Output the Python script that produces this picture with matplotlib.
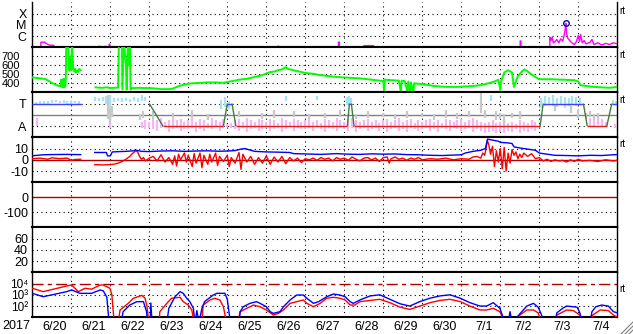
import matplotlib
matplotlib.use("Agg")
import matplotlib.pyplot as plt
import numpy as np
from matplotlib.collections import LineCollection
from matplotlib.lines import Line2D
from matplotlib.ticker import NullLocator

plt.rcParams['font.family'] = ['Liberation Sans', 'DejaVu Sans']
plt.rcParams['font.size'] = 8

# time axis: days since 2017-06-20 00UT
day_labels = ['6/20', '6/21', '6/22', '6/23', '6/24', '6/25', '6/26', '6/27',
              '6/28', '6/29', '6/30', '7/1', '7/2', '7/3', '7/4']

# X-ray flux (log10 W/m2), values below 1e-7 fall off the panel
xray_t = [0.0, 0.22, 0.22, 0.33, 0.35, 0.42, 0.45, 0.55, 0.55, 1.70, 1.70, 1.75, 1.75,
          1.86, 1.86, 1.90, 1.90, 1.97, 1.97, 1.99, 1.99, 6.30, 6.30, 6.32, 6.32,
          7.85, 7.85, 7.87, 7.87, 8.50, 8.50, 8.75, 8.75, 12.51, 12.51, 12.53, 12.53,
          13.27, 13.27, 13.30, 13.33, 13.36, 13.40, 13.45, 13.50, 13.55, 13.60, 13.63,
          13.66, 13.68, 13.70, 13.73, 13.78, 13.85, 13.90, 13.95, 14.00, 14.03, 14.06,
          14.10, 14.15, 14.20, 14.30, 14.35, 14.40, 14.50, 14.60, 14.70, 14.80, 14.90, 15.0]
xray_log = [-7.5, -7.5, -6.55, -6.55, -6.65, -6.78, -6.82, -6.82, -7.5, -7.5, -6.92, -6.92, -7.5,
            -7.5, -6.92, -6.92, -7.5, -7.5, -6.72, -6.72, -7.5, -7.5, -6.9, -6.9, -7.5,
            -7.5, -6.53, -6.53, -7.5, -7.5, -6.85, -6.85, -7.5, -7.5, -6.44, -6.44, -7.5,
            -7.5, -6.1, -6.4, -6.1, -6.6, -6.5, -6.3, -6.6, -6.25, -6.45, -6.05,
            -5.5, -4.87, -5.76, -6.2, -6.4, -6.65, -6.75, -6.5, -5.95, -6.5, -5.85,
            -6.6, -6.4, -6.7, -6.55, -6.3, -6.75, -6.6, -6.8, -6.65, -6.75, -6.6, -6.7]
flare_t = 13.68
flare_log = -4.87

# solar wind speed (km/s)
speed_t = [0.0, 0.1, 0.2, 0.3, 0.35, 0.4, 0.45, 0.5, 0.55, 0.6, 0.65, 0.7, 0.73, 0.74, 0.76,
           0.78, 0.8, 0.82, 0.84, 0.86, 0.87, 0.92, 0.93, 0.96, 0.98, 1.0, 1.02, 1.05, 1.08,
           1.1, 1.12, 1.15, 1.18, 1.2, 1.24, 1.25, 1.62, 1.7, 1.8, 1.9, 2.0, 2.1, 2.2, 2.22,
           2.3, 2.31, 2.35, 2.4, 2.42, 2.45, 2.48, 2.5, 2.52, 2.55, 2.7, 2.9, 3.1, 3.3, 3.5,
           3.6, 3.7, 3.8, 3.9, 4.0, 4.1, 4.3, 4.5, 4.7, 4.9, 5.0, 5.2, 5.3, 5.5, 5.7, 5.9,
           6.0, 6.1, 6.2, 6.3, 6.4, 6.5, 6.55, 6.7, 6.85, 7.0, 7.2, 7.4, 7.6, 7.8, 8.0, 8.2,
           8.4, 8.6, 8.8, 9.0, 9.02, 9.04, 9.2, 9.4, 9.45, 9.47, 9.55, 9.62, 9.64, 9.69, 9.71,
           9.77, 9.79, 9.9, 10.1, 10.3, 10.6, 10.9, 11.1, 11.3, 11.5, 11.7, 11.85, 11.95, 12.0,
           12.02, 12.1, 12.2, 12.3, 12.35, 12.45, 12.55, 12.62, 12.7, 12.8, 12.9, 13.0, 13.3,
           13.6, 13.9, 14.0, 14.05, 14.2, 14.4, 14.6, 14.8, 15.0]
speed_v = [465, 460, 455, 450, 445, 430, 420, 405, 395, 385, 375, 370, 365, 440, 360,
           445, 355, 450, 360, 440, 850, 850, 560, 540, 700, 550, 850, 560, 530,
           560, 520, 540, 530, 560, 545, np.nan, 355, 352, 350, 355, 348, 350, 352, 850,
           850, 330, 850, 620, 330, 850, 600, 850, 330, 345, 350, 348, 345, 335, 335,
           340, 360, 375, 385, 395, 400, 405, 410, 410, 405, 415, 430, 440, 450, 470, 490,
           510, 525, 530, 545, 555, 580, 560, 545, 530, 515, 505, 490, 480, 470, 465, 460,
           455, 445, 435, 425, 300, 440, 435, 430, 300, 430, 425, 300, 420, 300, 410,
           300, 400, 395, 385, 370, 360, 360, 365, 370, 380, 400, 420, 440, 325,
           420, 520, 545, 520, 360, 480, 530, 555, 530, 500, 470, 445, 445,
           440, 435, 420, 380, 370, 360, 355, 350, 360]

# IMF sector (T = +1, A = -1)
sector_t = [0.0, 1.27, np.nan, 3.0, 3.35, 4.9, 5.0, 5.12, 5.22, 8.08, 8.13, 8.18, 8.25,
            13.02, 13.1, 14.13, 14.23, 14.73, 14.86, 15.0]
sector_v = [1, 1, np.nan, 1, -1, -1, 1, 1, -1, -1, 1, 1, -1,
            -1, 1, 1, -1, -1, 1, 1]

# IMF direction scatter, drawn as short streaks (lo, hi)
imf_blue_t = [0.0, 0.1, 0.2, 0.3, 0.4, 0.5, 0.6, 0.7, 0.8, 0.9, 1.0, 1.1, 1.2,
              1.62, 1.7, 1.8, 1.9, 2.0, 2.1, 2.2, 2.3, 2.4, 2.5, 2.6, 2.7, 2.8, 2.9,
              4.85, 4.95, 5.05, 6.5, 7.3, 8.08, 8.12, 8.16, 11.75,
              13.05, 13.15, 13.25, 13.35, 13.45, 13.55, 13.65, 13.75, 13.85, 13.95, 14.05,
              14.9, 14.97]
imf_blue_lo = [0.9, 0.9, 0.95, 1.0, 1.0, 1.05, 1.1, 1.05, 1.05, 1.0, 1.0, 1.05, 1.0,
               1.2, 1.2, 1.25, 1.0, 0.6, 1.1, 1.2, 1.15, 1.2, 1.1, 1.2, 1.1, 1.2, 1.2,
               0.5, 0.7, 0.5, 1.2, 1.3, 0.9, 0.9, 1.0, 1.2,
               0.6, 0.8, 0.9, 0.8, 0.7, 0.9, 0.6, 0.8, 0.9, 0.8, 0.9,
               0.9, 1.0]
imf_blue_hi = [1.1, 1.15, 1.2, 1.25, 1.25, 1.3, 1.3, 1.25, 1.3, 1.25, 1.2, 1.25, 1.2,
               1.6, 1.5, 1.6, 1.7, 1.8, 1.5, 1.5, 1.45, 1.5, 1.4, 1.6, 1.5, 1.8, 1.6,
               1.3, 1.6, 1.2, 1.7, 1.7, 1.6, 1.7, 1.5, 1.8,
               1.5, 1.7, 1.6, 1.8, 1.5, 1.7, 1.6, 1.5, 1.7, 1.6, 1.5,
               1.3, 1.2]

imf_pink_t = [0.12, 2.0, 2.8, 2.9] + [round(3.0 + 0.1 * i, 1) for i in range(100)] + \
             [14.3, 14.4, 14.5, 14.6, 14.7, 14.95]
imf_pink_hi = [-0.3, -0.2, -0.6, -0.5,
               -0.6, -0.4, -0.5, -0.3, -0.6, -0.5, -0.2, -0.5, -0.4, -0.6,
               -0.5, -0.3, -0.6, -0.4, -0.5, -0.7, -0.3, -0.5, -0.6, -0.4,
               -0.8, -0.7, -0.5, -0.4, -0.6, -0.3, -0.5, -0.6, -0.4, -0.5,
               -0.6, -0.4, -0.5, -0.7, -0.3, -0.5, -0.6, -0.4, -0.5, -0.6,
               -0.5, -0.4, -0.6, -0.5, -0.7, -0.4, -0.5, -0.6, -0.3, -0.5,
               -0.6, -0.4, -0.3, -0.5, -0.6, -0.5, -0.4, -0.6, -0.5, -0.7,
               -0.5, -0.4, -0.6, -0.5, -0.3, -0.6, -0.5, -0.4, -0.7, -0.5,
               -0.6, -0.5, -0.4, -0.6, -0.5, -0.7, -0.4, -0.5, -0.6, -0.5,
               -0.4, -0.6, -0.5, -0.3, -0.5, -0.6, -0.7, -0.6, -0.5, -0.7,
               -0.6, -0.5, -0.7, -0.6, -0.8, -0.5, -0.6, -0.7, -0.5, -0.6,
               -0.3, -0.5, -0.2, -0.4, -0.6, -0.8]
imf_pink_lo = [-1.0, -1.2, -1.2, -1.3,
               -1.2, -1.3, -1.4, -1.2, -1.1, -1.5, -1.3, -1.2, -1.4, -1.3,
               -1.3, -1.2, -1.5, -1.3, -1.4, -1.2, -1.3, -1.1, -1.4, -1.2,
               -1.1, -1.2, -1.3, -1.4, -1.2, -1.5, -1.3, -1.2, -1.4, -1.3,
               -1.2, -1.4, -1.3, -1.2, -1.5, -1.3, -1.1, -1.4, -1.2, -1.3,
               -1.3, -1.2, -1.4, -1.1, -1.3, -1.5, -1.2, -1.3, -1.4, -1.2,
               -1.3, -1.4, -1.2, -1.5, -1.3, -1.2, -1.4, -1.3, -1.2, -1.4,
               -1.2, -1.5, -1.3, -1.2, -1.4, -1.3, -1.5, -1.2, -1.3, -1.4,
               -1.3, -1.2, -1.4, -1.3, -1.5, -1.2, -1.3, -1.4, -1.2, -1.3,
               -1.4, -1.3, -1.2, -1.5, -1.3, -1.4, -1.6, -1.5, -1.4, -1.6,
               -1.5, -1.6, -1.4, -1.5, -1.3, -1.6, -1.4, -1.5, -1.3, -1.4,
               -1.0, -1.1, -0.9, -1.1, -1.0, -1.2]

imf_gray_t = [1.95, 2.0, 2.05, 2.75, 2.85, 3.1, 3.6, 4.1, 4.5, 5.3, 5.9, 6.2, 6.7, 7.1,
              7.5, 7.9, 8.3, 8.6, 9.0, 9.3, 9.6, 10.0, 10.3, 10.6, 10.9, 11.2, 11.5, 11.6,
              11.9, 12.0, 12.1, 12.3, 12.5, 13.4, 13.8, 14.0, 14.2, 14.3, 14.4, 14.5]
imf_gray_lo = [-0.4, -0.8, -0.2, -0.5, -0.3, -0.4, -0.2, -0.3, -0.5, -0.2, -0.4, -0.3, -0.2, -0.4,
               -0.3, -0.2, -0.4, -0.3, -0.2, -0.4, -0.3, -0.2, -0.5, -0.3, -0.4, -0.2, 0.2, -0.3,
               -0.5, -0.4, -1.2, -0.3, -0.4, 0.3, 0.2, -0.3, -0.4, -0.2, -0.5, -0.3]
imf_gray_hi = [1.8, 1.2, 0.8, 0.1, 0.3, 0.3, 0.2, 0.4, 0.1, 0.3, 0.2, 0.4, 0.3, 0.1,
               0.2, 0.4, 0.1, 0.3, 0.2, 0.1, 0.3, 0.2, 0.1, 0.4, 0.2, 0.3, 1.9, 0.4,
               0.3, 0.2, 0.1, 0.2, 0.3, 0.9, 0.8, 0.4, 0.2, 0.3, 0.1, 0.2]

# IMF Bt (blue) and Bz (red), nT
bt_t = [0.0, 0.3, 0.6, 0.9, 1.24, 1.25, 1.6, 1.9, 1.93, 2.0, 2.05, 2.4, 2.6, 2.65, 2.8,
        3.0, 3.3, 3.6, 3.9, 4.2, 4.5, 4.8, 5.0, 5.2, 5.35, 5.45, 5.55, 5.7, 6.0, 6.3,
        6.6, 6.7, 7.0, 7.4, 7.8, 8.1, 8.4, 8.7, 9.0, 9.3, 9.6, 9.9, 10.2, 10.5, 10.8,
        11.0, 11.1, 11.3, 11.5, 11.62, 11.67, 11.8, 11.95, 12.0, 12.2, 12.3, 12.35,
        12.5, 12.7, 12.9, 13.0, 13.2, 13.4, 13.7, 14.0, 14.3, 14.6, 14.9, 15.0]
bt_v = [3.6, 4.5, 4.7, 4.8, 4.6, np.nan, 6.5, 6.5, 3.5, 3.5, 7.0, 7.5, 8.0, 8.6, 7.5,
        7.3, 7.8, 8.0, 7.5, 7.8, 8.0, 7.6, 7.8, 8.2, 9.5, 10.0, 9.0, 7.5, 7.0, 6.8,
        6.5, 5.5, 5.2, 4.8, 5.5, 5.0, 4.8, 5.3, 5.0, 5.2, 4.6, 4.5, 4.0, 3.8, 4.2,
        4.5, 6.0, 7.5, 8.5, 10.0, 18.4, 17.5, 16.5, 15.5, 15.0, 14.5, 11.5,
        10.5, 9.5, 8.5, 6.0, 5.0, 4.0, 3.8, 3.5, 4.0, 3.8, 4.5, 4.6]

bz_t = [0.0, 0.2, 0.4, 0.5, 0.7, 0.9, 1.0, 1.1, 1.24, 1.25,
        1.6, 1.8, 2.0, 2.1, 2.2, 2.3, 2.4, 2.5, 2.55, 2.6, 2.65, 2.7, 2.75, 2.8, 2.85, 2.9,
        3.0, 3.1, 3.2, 3.3, 3.4, 3.5, 3.6, 3.65, 3.7, 3.75, 3.8, 3.9, 3.95, 4.0, 4.1, 4.15,
        4.2, 4.3, 4.35, 4.4, 4.5, 4.55, 4.6, 4.7, 4.75, 4.8, 4.9, 5.0, 5.05, 5.1, 5.2, 5.3,
        5.35, 5.4, 5.5, 5.6, 5.7, 5.8, 5.9, 6.0, 6.1, 6.2, 6.3, 6.4, 6.5, 6.6, 6.7, 6.8,
        6.9, 7.0, 7.1, 7.2, 7.3, 7.4, 7.5, 7.6, 7.7, 7.8, 7.9, 8.0, 8.1, 8.2, 8.3, 8.4,
        8.5, 8.6, 8.7, 8.8, 8.9, 9.0, 9.1, 9.15, 9.2, 9.3, 9.4, 9.5, 9.6, 9.7, 9.8, 9.9,
        10.0, 10.2, 10.4, 10.6, 10.8, 11.0, 11.2, 11.3, 11.4, 11.5, 11.55, 11.6, 11.67,
        11.7, 11.75, 11.8, 11.85, 11.9, 11.95, 12.0, 12.05, 12.1, 12.15, 12.2, 12.25, 12.3,
        12.35, 12.4, 12.45, 12.5, 12.55, 12.6, 12.7, 12.8, 12.9, 13.0, 13.1, 13.2, 13.3,
        13.4, 13.5, 13.6, 13.7, 13.8, 13.9, 14.0, 14.1, 14.3, 14.5, 14.7, 14.9, 15.0]
bz_v = [1.0, 1.5, 0.5, 1.8, 1.0, 1.5, -0.5, 0.3, 0.5, np.nan,
        -4.3, -4.5, -4.3, -3.8, -3.0, -1.5, 0.5, 3.0, 5.0, 6.5, 8.0, 7.0, 3.0, 0.5, 2.0, -1.0,
        1.5, 3.0, -1.0, 4.5, -2.0, 2.0, -4.0, 3.5, -5.5, 5.0, 0.0, 6.0, -2.0, 4.0, -6.0, 5.5,
        -3.0, 6.0, -7.0, 4.0, -4.0, 5.0, -2.0, 6.0, -5.0, 3.0, -1.5, 4.0, -6.0, 2.0, -3.0, 6.5,
        -8.5, 5.0, -2.0, 3.0, -4.0, 2.0, -3.0, 3.5, -4.0, 2.5, -2.0, 3.0, -3.5, 2.0, -1.0, 1.5,
        -2.5, 1.0, 0.0, 1.5, -0.5, 2.0, 0.5, 1.5, -1.0, 2.0, 0.5, 1.5, -0.5, 2.5, 0.5, -1.0,
        1.5, 2.0, 0.0, 1.5, -1.5, 2.0, 2.5, -3.0, 1.0, 2.5, 0.5, 1.5, -0.5, 1.5, 0.5, 2.0,
        0.0, 1.0, 0.5, 1.5, 0.0, 1.0, 0.5, 2.5, 3.0, 1.5, 6.0, 4.0, 17.0,
        14.0, 5.0, 12.0, -6.0, 8.0, -2.0, 10.0, -8.0, 11.0, -10.0, 6.0, -3.0, 9.0,
        4.0, 7.0, 1.0, 5.0, 2.0, 6.0, 3.0, 5.5, 1.0, 2.0, -1.0, 0.5, -1.5,
        0.0, -1.0, -0.5, -2.0, 0.0, -1.5, 0.5, -1.0, -0.5, -1.5, 0.0, -1.0, -0.5]

# electron flux (log10), two channels
e_red_t = [0.0, 0.28, 0.88, 1.01, 1.18, 1.35, 1.52, 1.74, 1.82, 1.99, 2.04, 2.1, 2.2, 2.25,
           2.46, 2.59, 2.76, 2.81, 2.89, 2.94, 2.99, 3.25, 3.27, 3.45, 3.57, 3.79, 3.87,
           4.0, 4.09, 4.15, 4.35, 4.38, 4.56, 4.68, 4.81, 4.9, 4.98, 5.27, 5.33, 5.5, 5.67,
           5.84, 6.0, 6.18, 6.31, 6.44, 6.61, 6.78, 6.95, 7.04, 7.21, 7.38, 7.55, 7.72,
           7.89, 8.02, 8.15, 8.27, 8.4, 8.66, 8.91, 9.17, 9.43, 9.68, 9.94, 10.2, 10.45,
           10.71, 10.97, 11.22, 11.48, 11.65, 11.82, 11.99, 12.12, 12.45, 12.5, 12.68,
           12.85, 12.97, 13.06, 13.42, 13.45, 13.7, 13.87, 14.04, 14.12, 14.33, 14.37,
           14.56, 14.77, 14.9, 15.0]
e_red_v = [3.58, 3.28, 3.78, 3.87, 3.28, 3.58, 3.5, 3.87, 3.87, 3.58, 3.0, 0.5, 0.5, 1.65,
           2.24, 2.69, 2.89, 2.95, 2.7, 2.0, 0.5, 0.5, 1.5, 2.24, 2.69, 2.78, 2.39,
           2.09, 1.65, 0.5, 0.5, 2.09, 2.54, 2.69, 2.54, 1.94, 0.5, 0.5, 1.5, 1.8, 2.09,
           1.94, 1.65, 1.2, 1.35, 1.65, 2.24, 2.39, 2.54, 2.24, 1.94, 2.24, 2.69, 2.78,
           2.69, 2.54, 2.09, 2.09, 2.39, 2.5, 2.6, 2.3, 1.9, 1.7, 2.0, 2.3, 2.5,
           2.6, 2.4, 2.0, 1.65, 1.65, 1.8, 1.5, 0.5, 0.5, 1.2, 1.65,
           1.65, 1.4, 0.5, 0.5, 1.2, 1.65, 1.6, 1.2, 0.5, 0.5, 1.2,
           1.65, 1.6, 1.2, 1.0]
e_blue_t = [0.0, 0.28, 0.88, 1.01, 1.22, 1.52, 1.74, 1.82, 1.91, 1.97, 2.27, 2.33, 2.5,
            2.68, 2.85, 2.93, 2.95, 3.02, 3.04, 3.07, 3.45, 3.5, 3.66, 3.79, 3.87, 3.96,
            4.04, 4.13, 4.17, 4.22, 4.27, 4.35, 4.42, 4.64, 4.73, 4.94, 5.0, 5.08, 5.3,
            5.33, 5.41, 5.58, 5.75, 5.84, 6.0, 6.1, 6.18, 6.35, 6.44, 6.61, 6.78, 6.95,
            7.04, 7.21, 7.34, 7.55, 7.72, 7.89, 8.02, 8.15, 8.23, 8.4, 8.66, 8.91, 9.17,
            9.43, 9.68, 9.94, 10.2, 10.45, 10.71, 10.97, 11.22, 11.48, 11.65, 11.82, 11.99,
            12.12, 12.2, 12.25, 12.3, 12.5, 12.68, 12.85, 12.97, 13.06, 13.1, 13.4, 13.45,
            13.6, 13.7, 13.97, 14.04, 14.1, 14.3, 14.35, 14.45, 14.6, 14.77, 14.9, 15.0]
e_blue_v = [3.13, 2.83, 3.28, 3.43, 3.13, 3.13, 3.43, 3.35, 2.8, 0.5, 0.5, 1.5, 2.09,
            2.39, 2.39, 1.5, 0.5, 0.5, 2.27, 0.5, 0.5, 1.8, 2.83, 3.28, 3.13, 2.69,
            2.39, 1.8, 0.5, 1.6, 0.5, 1.8, 2.4, 2.98, 3.13, 3.13, 2.6, 0.5, 0.5,
            1.5, 1.94, 2.24, 2.39, 2.24, 1.94, 1.5, 1.35, 1.5, 1.94, 2.54, 2.98, 2.98,
            2.69, 2.24, 2.39, 2.83, 3.07, 2.98, 2.83, 2.39, 2.24, 2.54, 2.9, 3.0, 2.6,
            2.2, 2.0, 2.4, 2.7, 2.9, 3.0, 2.7, 2.3, 2.0, 2.0, 2.3, 1.8,
            0.5, 0.5, 1.5, 0.5, 1.3, 2.0, 2.24, 1.9, 1.2, 0.5, 0.5, 1.4,
            1.8, 2.0, 1.9, 1.4, 0.5, 0.5, 1.5, 1.94, 2.09, 2.0, 1.5, 1.4]

W, H = 633, 334
fig = plt.figure(figsize=(W / 100, H / 100), dpi=100)
left, right = 32.3 / W, 617.3 / W
ph = 45 / H
top = 1 - 2.3 / H
axes = [fig.add_axes([left, top - (i + 1) * ph, right - left, ph]) for i in range(7)]

dot = dict(color='black', lw=0.8, ls=(0, (1, 3)))
dark_red = '#b00000'

for i, ax in enumerate(axes):
    ax.set_xlim(0, 15)
    ax.set_xticks([])
    ax.tick_params(axis='y', length=0, pad=3, labelsize=8)
    ax.yaxis.set_minor_locator(NullLocator())
    for d in range(1, 15):
        ax.axvline(d, **dot, zorder=1)
    for s in ('left', 'right'):
        ax.spines[s].set_linewidth(1.0)
    for s in ('top', 'bottom'):
        ax.spines[s].set_linewidth(1.5)
    if i == 0:
        ax.spines['top'].set_visible(False)

# X-ray
ax = axes[0]
ax.set_yscale('log')
ax.set_ylim(1e-7, 1e-3)
ax.yaxis.set_minor_locator(NullLocator())
for lv in (1e-6, 1e-5, 1e-4):
    ax.axhline(lv, **dot, zorder=1)
ax.plot(xray_t, 10 ** np.array(xray_log), color='#ff00ff', lw=1.0, zorder=3)
ax.plot(flare_t, 10 ** flare_log, 'o', mfc='none', mec='#0000c0', ms=4, mew=1.0, zorder=4)
ax.set_yticks([1e-4, 1e-5, 1e-6])
ax.set_yticklabels(['X', 'M', 'C'], fontsize=9)
ax.tick_params(axis='y', pad=4)

# solar wind speed
ax = axes[1]
ax.set_ylim(300, 800)
for lv in (400, 500, 600, 700):
    ax.axhline(lv, **dot, zorder=1)
ax.plot(speed_t, speed_v, color='#00ff00', lw=1.4, zorder=3)
ax.set_yticks([700, 600, 500, 400])
ax.tick_params(axis='y', pad=9)

# IMF sector
ax = axes[2]
ax.set_ylim(-2, 2)
for lv in (1, -1):
    ax.axhline(lv, **dot, zorder=1)
ax.axhline(0, color='#808080', lw=1.0, zorder=2)
ax.vlines(imf_pink_t, imf_pink_lo, imf_pink_hi, color='#f6b6f2', lw=1.6, zorder=2)
ax.vlines(imf_gray_t, imf_gray_lo, imf_gray_hi, color='#c8c8c8', lw=1.6, zorder=2)
ax.vlines(imf_blue_t, imf_blue_lo, imf_blue_hi, color='#a6e2f4', lw=1.6, zorder=2)
segs, cols = [], []
for k in range(len(sector_t) - 1):
    t0, t1, v0, v1 = sector_t[k], sector_t[k + 1], sector_v[k], sector_v[k + 1]
    if np.isnan(v0) or np.isnan(v1):
        continue
    segs.append([(t0, v0), (t1, v1)])
    cols.append('#4040ff' if v0 == v1 == 1 else '#e02020' if v0 == v1 == -1 else '#3e7e3e')
ax.add_collection(LineCollection(segs, colors=cols, lw=1.0, zorder=3))
ax.set_yticks([1, -1])
ax.set_yticklabels(['T', 'A'], fontsize=9)
ax.tick_params(axis='y', pad=4)

# IMF Bz / Bt
ax = axes[3]
ax.set_ylim(-20, 20)
for lv in (10, -10):
    ax.axhline(lv, **dot, zorder=1)
ax.axhline(0, color=dark_red, lw=1.0, zorder=2)
ax.plot(bz_t, bz_v, color='#ff0000', lw=1.0, zorder=3)
ax.plot(bt_t, bt_v, color='#0000ff', lw=1.0, zorder=4)
ax.set_yticks([10, 0, -10])
ax.set_yticklabels(['10', '0', '-10'], fontsize=9)

# Dst
ax = axes[4]
ax.set_ylim(-200, 100)
ax.axhline(-100, **dot, zorder=1)
ax.axhline(0, color=dark_red, lw=1.0, zorder=2)
ax.set_yticks([0, -100])
ax.set_yticklabels(['0', '-100'], fontsize=9)

# empty index panel
ax = axes[5]
ax.set_ylim(0, 80)
for lv in (20, 40, 60):
    ax.axhline(lv, **dot, zorder=1)
ax.set_yticks([60, 40, 20])
ax.set_yticklabels(['60', '40', '20'], fontsize=9)

# electron flux
ax = axes[6]
ax.set_yscale('log')
ax.set_ylim(1e1, 1e5)
ax.yaxis.set_minor_locator(NullLocator())
for lv in (1e2, 1e3):
    ax.axhline(lv, **dot, zorder=1)
ax.axhline(1e4, color=dark_red, lw=1.0, ls=(0, (8, 3, 3, 3)), zorder=2)
ax.plot(e_red_t, 10 ** np.array(e_red_v), color='#ff0000', lw=1.0, zorder=3)
ax.plot(e_blue_t, 10 ** np.array(e_blue_v), color='#0000ff', lw=1.0, zorder=3)
ax.set_yticks([1e4, 1e3, 1e2])
ax.set_yticklabels(['10\u2074', '10\u00b3', '10\u00b2'], fontsize=8.5)
ax.set_xticks([d + 0.58 for d in range(15)])
ax.set_xticklabels(day_labels)
ax.tick_params(axis='x', length=0, pad=3, labelsize=9)

fig.text(16 / W, 1 - 326 / H, '2017', ha='center', va='center', fontsize=9)

for yp in (11, 55, 100, 144, 289):
    fig.text(619 / W, 1 - yp / H, 'rt', fontsize=7, va='center', ha='left')

for k in range(3):
    off = 4 * k
    fig.add_artist(Line2D([(621 + off) / W, (633) / W], [0, (12 - off) / H],
                          color='#808080', lw=0.8, transform=fig.transFigure))

fig.savefig('out.png', dpi=100, facecolor='white')
